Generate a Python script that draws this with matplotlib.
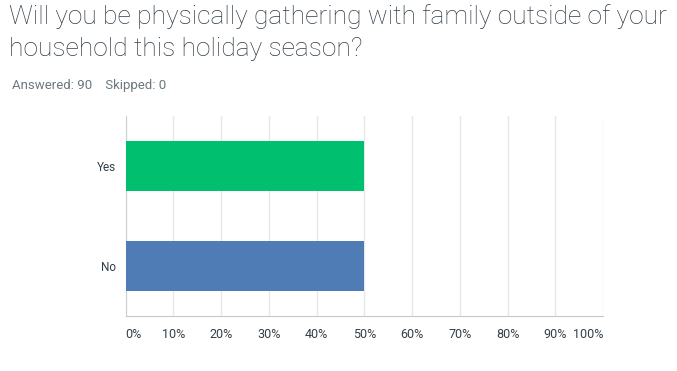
import matplotlib.pyplot as plt
from matplotlib.ticker import FuncFormatter

plt.rcParams['font.family'] = ['Roboto', 'DejaVu Sans']

# data
answers = ['No', 'Yes']
percents = [50.0, 50.0]
bar_colors = ['#507cb6', '#00bf6f']
x_ticks = [0, 10, 20, 30, 40, 50, 60, 70, 80, 90, 100]

title = 'Will you be physically gathering with family outside of your\nhousehold this holiday season?'
answered = 90
skipped = 0

fig = plt.figure(figsize=(6.77, 3.71), dpi=100)
ax = fig.add_axes([125.5 / 677, (371 - 316) / 371, (603 - 125.5) / 677, (316 - 115.7) / 371])

ax.barh(range(len(answers)), percents, height=0.5, color=bar_colors, zorder=3)
ax.set_ylim(-0.5, 1.5)
ax.set_xlim(0, 100)
ax.set_yticks(range(len(answers)))
ax.set_yticklabels(answers, fontsize=8.5, color='#333e48')
ax.set_xticks(x_ticks)
ax.xaxis.set_major_formatter(FuncFormatter(lambda v, p: '%d%%' % v))
ax.tick_params(axis='x', length=0, labelsize=9, colors='#333e48', pad=9)
ax.tick_params(axis='y', length=0, colors='#333e48', pad=7)
labels = ax.get_xticklabels()
labels[0].set_ha('left')
labels[-1].set_ha('right')

ax.grid(axis='x', color='#e8e8e8', lw=1, zorder=0)
for s in ['top', 'right']:
    ax.spines[s].set_visible(False)
ax.spines['left'].set_color('#d0d0d0')
ax.spines['bottom'].set_color('#c8c8c8')

fig.text(9 / 677, 1 - 4 / 371, title, fontsize=19, fontweight='light', color='#333e48',
         va='top', ha='left', linespacing=1.45)
fig.text(12 / 677, 1 - 85 / 371, 'Answered: %d    Skipped: %d' % (answered, skipped),
         fontsize=9.5, color='#6b787f', va='center', ha='left')

plt.savefig('out.png', dpi=100)
